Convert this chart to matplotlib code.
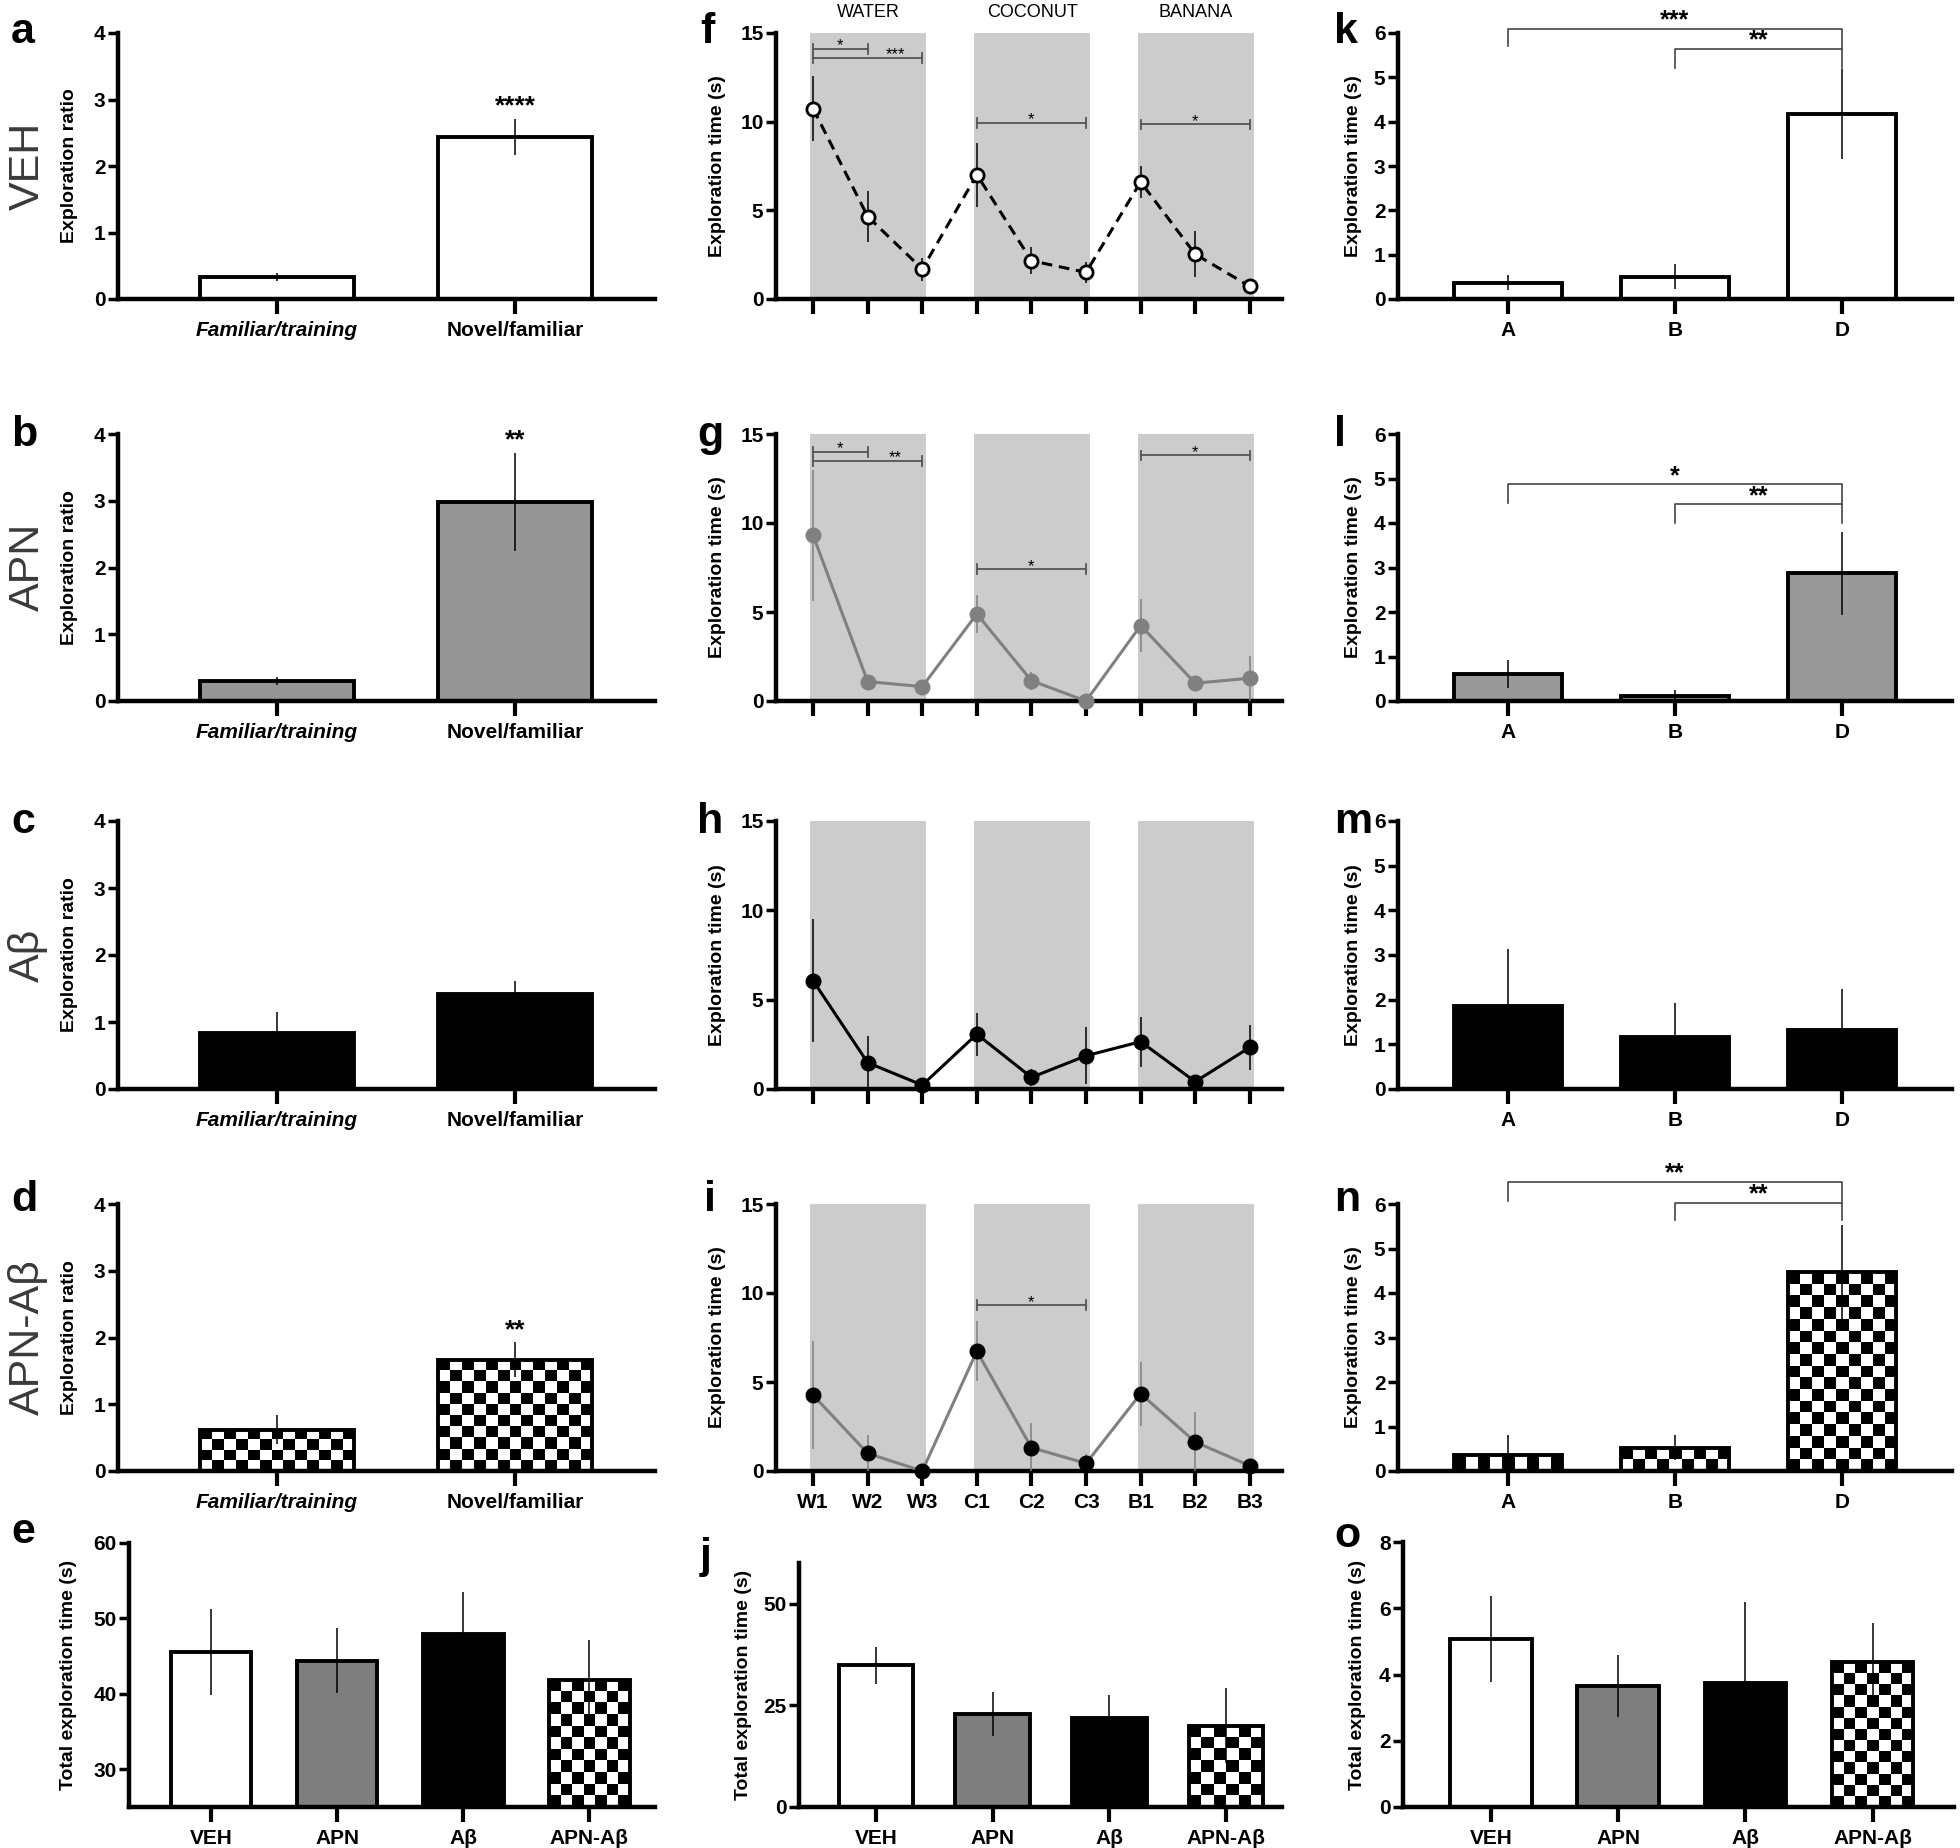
import numpy as np
import matplotlib
matplotlib.use('Agg')
import matplotlib.pyplot as plt

W, H = 1960, 1848

# --- novel object recognition (a-d) ---
nor_labels = ['Familiar/training', 'Novel/familiar']
nor_veh = [0.33, 2.44]
nor_veh_err = [0.06, 0.27]
nor_apn = [0.30, 2.98]
nor_apn_err = [0.06, 0.74]
nor_ab = [0.84, 1.42]
nor_ab_err = [0.31, 0.19]
nor_apnab = [0.62, 1.67]
nor_apnab_err = [0.22, 0.26]
nor_stars_veh = ['', '****']
nor_stars_apn = ['', '**']
nor_stars_ab = ['', '']
nor_stars_apnab = ['', '**']

# --- olfactory habituation (f-i) ---
smell_labels = ['W1', 'W2', 'W3', 'C1', 'C2', 'C3', 'B1', 'B2', 'B3']
smell_groups = ['WATER', 'COCONUT', 'BANANA']
smell_veh = [10.73, 4.65, 1.69, 7.01, 2.16, 1.50, 6.60, 2.53, 0.71]
smell_veh_err = [1.83, 1.45, 0.65, 1.80, 0.75, 0.58, 0.90, 1.30, 0.20]
smell_apn = [9.30, 1.09, 0.81, 4.89, 1.14, 0.0, 4.24, 1.00, 1.28]
smell_apn_err = [3.70, 0.35, 0.30, 1.05, 0.50, 0.05, 1.50, 0.30, 1.27]
smell_ab = [6.06, 1.47, 0.22, 3.07, 0.65, 1.86, 2.65, 0.41, 2.33]
smell_ab_err = [3.45, 1.50, 0.10, 1.20, 0.48, 1.60, 1.40, 0.12, 1.24]
smell_apnab = [4.26, 0.99, 0.0, 6.73, 1.31, 0.43, 4.34, 1.63, 0.30]
smell_apnab_err = [3.05, 1.05, 0.05, 1.68, 1.40, 0.54, 1.80, 1.70, 0.10]
# (from, to, height, stars, star x)
smell_sig_veh = [(0, 1, 14.1, '*', 0.5), (0, 2, 13.6, '***', 1.5),
                 (3, 5, 9.94, '*', 4), (6, 8, 9.85, '*', 7)]
smell_sig_apn = [(0, 1, 14.0, '*', 0.5), (0, 2, 13.5, '**', 1.5),
                 (3, 5, 7.4, '*', 4), (6, 8, 13.8, '*', 7)]
smell_sig_ab = []
smell_sig_apnab = [(3, 5, 9.31, '*', 4)]

# --- object location (k-n) ---
obj_labels = ['A', 'B', 'D']
obj_veh = [0.37, 0.50, 4.17]
obj_veh_err = [0.17, 0.28, 1.02]
obj_apn = [0.61, 0.12, 2.87]
obj_apn_err = [0.32, 0.12, 0.93]
obj_ab = [1.86, 1.17, 1.31]
obj_ab_err = [1.28, 0.75, 0.94]
obj_apnab = [0.37, 0.52, 4.47]
obj_apnab_err = [0.43, 0.28, 1.05]
# (from, to, line y, left leg end, right leg end, stars)
obj_sig_veh = [(0, 2, 6.10, 5.70, 5.64, '***'), (1, 2, 5.64, 5.22, 5.22, '**')]
obj_sig_apn = [(0, 2, 4.87, 4.46, 4.42, '*'), (1, 2, 4.42, 4.00, 4.00, '**')]
obj_sig_ab = []
obj_sig_apnab = [(0, 2, 6.49, 6.07, 6.02, '**'), (1, 2, 6.02, 5.63, 5.63, '**')]

# --- total exploration (e, j, o) ---
tot_labels = ['VEH', 'APN', 'Aβ', 'APN-Aβ']
tot_nor = [45.5, 44.4, 47.9, 41.9]
tot_nor_err = [5.7, 4.3, 5.6, 5.2]
tot_smell = [34.8, 22.8, 22.0, 20.0]
tot_smell_err = [4.5, 5.4, 5.6, 9.3]
tot_obj = [5.08, 3.65, 3.75, 4.37]
tot_obj_err = [1.30, 0.93, 2.45, 1.18]

plt.rcParams['font.family'] = ['Liberation Sans', 'DejaVu Sans']
TICK_FONT = ['Liberation Sans Narrow', 'Liberation Sans', 'DejaVu Sans']
tick_kw = dict(fontfamily=TICK_FONT, fontweight='bold', fontsize=15)

fig = plt.figure(figsize=(W / 100, H / 100), dpi=100)


def make_ax(left, top, right, bottom, xlim, ylim):
  ax = fig.add_axes([left / W, 1 - bottom / H, (right - left) / W, (bottom - top) / H])
  for s in ['top', 'right']:
    ax.spines[s].set_visible(False)
  for s in ['left', 'bottom']:
    ax.spines[s].set_linewidth(3.2)
  ax.tick_params(axis='x', length=11, width=3, pad=5)
  ax.tick_params(axis='y', length=7, width=2.5, pad=2)
  ax.patch.set_alpha(0)
  ax.set_xlim(*xlim)
  ax.set_ylim(*ylim)
  ax.set_autoscale_on(False)
  return ax


def set_ylabel(ax, text, dx):
  ax.set_ylabel(text, fontsize=14, fontweight='bold', va='center')
  w = ax.get_position().width * W
  ax.yaxis.set_label_coords(-dx / w, 0.5)


def checker(ax, patch, x, v, width, sq=11.5):
  y0 = max(0, ax.get_ylim()[0])
  p0 = ax.transData.transform((x - width / 2, y0))
  p1 = ax.transData.transform((x + width / 2, v))
  nx = max(1, int(round((p1[0] - p0[0]) / sq)))
  ny = max(1, int(round((p1[1] - p0[1]) / sq)))
  board = np.indices((ny, nx)).sum(axis=0) % 2
  im = ax.imshow(board, cmap='gray', vmin=0, vmax=1,
                 extent=(x - width / 2, x + width / 2, y0, v),
                 origin='upper', aspect='auto', interpolation='nearest', zorder=2.5)
  im.set_clip_path(patch)


def bars(ax, values, errs, fills, width=0.65):
  xs = np.arange(len(values))
  for x, v, e, f in zip(xs, values, errs, fills):
    if f == 'checker':
      base = ax.bar(x, v, width, color='white', edgecolor='none', zorder=2)[0]
      checker(ax, base, x, v, width)
    else:
      ax.bar(x, v, width, color=f, edgecolor='none', zorder=2)
    ax.bar(x, v, width, facecolor='none', edgecolor='black', linewidth=2.8, zorder=3)
  ax.errorbar(xs, values, yerr=errs, fmt='none', ecolor='black',
              elinewidth=1.1, capsize=0, zorder=4)


def nor_panel(top, bottom, values, errs, fill, stars):
  ax = make_ax(118, top, 655, bottom, (-0.668, 1.588), (0, 4))
  bars(ax, values, errs, [fill, fill])
  for x, (v, e, s) in enumerate(zip(values, errs, stars)):
    if s:
      ax.annotate(s, (x, v + e), xytext=(0, 0), textcoords='offset points',
                  ha='center', va='bottom', fontsize=19, fontweight='bold')
  ax.set_yticks([0, 1, 2, 3, 4], ['0', '1', '2', '3', '4'], **tick_kw)
  ax.set_xticks([0, 1], nor_labels, **tick_kw)
  ax.get_xticklabels()[0].set_fontstyle('italic')
  set_ylabel(ax, 'Exploration ratio', 49)
  return ax


def smell_panel(top, bottom, values, errs, line_color, face, edge, dashed,
                err_color, band_tops, sig, show_labels=False, show_groups=False):
  ax = make_ax(776, top, 1282, bottom, (-0.68, 8.59), (0, 15))
  ax.bar(1.01 + 3 * np.arange(3), band_tops, 2.12, color='#cccccc', zorder=0)
  xs = np.arange(len(values))
  ax.errorbar(xs, values, yerr=errs, fmt='none', ecolor=err_color,
              elinewidth=1.1, capsize=0, zorder=3)
  ax.plot(xs, values, color=line_color, lw=2.2,
          ls=(0, (3.5, 2.2)) if dashed else '-', marker='o', ms=9.5,
          mfc=face, mec=edge, mew=2, zorder=4, clip_on=False)
  for i, j, y, s, lx in sig:
    ax.plot([i, j], [y, y], color='#555555', lw=1.3, zorder=5)
    for xx in (i, j):
      ax.plot([xx, xx], [y - 0.27, y + 0.27], color='#555555', lw=1.3, zorder=5)
    ax.annotate(s, (lx, y), xytext=(0, -1), textcoords='offset points',
                ha='center', va='baseline', fontsize=12)
  if show_groups:
    for g, name in enumerate(smell_groups):
      ax.text(1.01 + 3 * g, 16.15, name, ha='center', va='center',
              fontsize=13, clip_on=False)
  ax.set_yticks([0, 5, 10, 15], ['0', '5', '10', '15'], **tick_kw)
  ax.set_xticks(xs, smell_labels if show_labels else [''] * 9, **tick_kw)
  set_ylabel(ax, 'Exploration time (s)', 58)
  return ax


def obj_panel(top, bottom, values, errs, fill, sig):
  ax = make_ax(1398, top, 1952, bottom, (-0.66, 2.66), (0, 6))
  bars(ax, values, errs, [fill] * 3)
  for i, j, y, yl, yr, s in sig:
    ax.plot([i, i, j, j], [yl, y, y, yr], color='#444444', lw=1.2,
            zorder=5, clip_on=False)
    ax.annotate(s, ((i + j) / 2, y), xytext=(0, 1), textcoords='offset points',
                ha='center', va='baseline', fontsize=18, fontweight='bold',
                annotation_clip=False)
  ax.set_yticks(range(7), [str(t) for t in range(7)], **tick_kw)
  ax.set_xticks([0, 1, 2], obj_labels, **tick_kw)
  set_ylabel(ax, 'Exploration time (s)', 45)
  return ax


def total_panel(left, top, right, bottom, xlim, ylim, ticks, values, errs, dx):
  ax = make_ax(left, top, right, bottom, xlim, ylim)
  bars(ax, values, errs, ['white', '#7f7f7f', 'black', 'checker'], width=0.64)
  ax.set_yticks(ticks, [str(t) for t in ticks], **tick_kw)
  ax.set_xticks(range(4), tot_labels, **tick_kw)
  set_ylabel(ax, 'Total exploration time (s)', dx)
  return ax


def letters():
  marks = [('a', 11, 43), ('b', 11, 446), ('c', 11, 833), ('d', 11, 1211), ('e', 11, 1543),
           ('f', 700, 43), ('g', 697, 446), ('h', 697, 833), ('i', 704, 1211), ('j', 700, 1568),
           ('k', 1334, 43), ('l', 1334, 446), ('m', 1334, 833), ('n', 1334, 1211), ('o', 1334, 1547)]
  for s, x, y in marks:
    fig.text(x / W, 1 - y / H, s, ha='left', va='baseline', fontsize=31, fontweight='bold')
  rows = [('VEH', 166), ('APN', 567), ('Aβ', 955), ('APN-Aβ', 1337)]
  for s, y in rows:
    fig.text(28 / W, 1 - y / H, s, rotation=90, ha='center', va='center',
             fontsize=31, color='#3a3a3a')


def main():
  tops = [33, 434, 821, 1204]
  bots = [299, 701, 1089, 1471]

  nor_panel(tops[0], bots[0], nor_veh, nor_veh_err, 'white', nor_stars_veh)
  nor_panel(tops[1], bots[1], nor_apn, nor_apn_err, '#959595', nor_stars_apn)
  nor_panel(tops[2], bots[2], nor_ab, nor_ab_err, 'black', nor_stars_ab)
  nor_panel(tops[3], bots[3], nor_apnab, nor_apnab_err, 'checker', nor_stars_apnab)

  smell_panel(tops[0], bots[0], smell_veh, smell_veh_err, 'black', 'white', 'black', True,
              'black', [15.15, 15.2, 15.2], smell_sig_veh, show_groups=True)
  smell_panel(tops[1], bots[1], smell_apn, smell_apn_err, '#808080', '#808080', '#808080', False,
              '#808080', [15.05, 15.3, 15.2], smell_sig_apn)
  smell_panel(tops[2], bots[2], smell_ab, smell_ab_err, 'black', 'black', 'black', False,
              'black', [15.05, 15.3, 15.25], smell_sig_ab)
  smell_panel(tops[3], bots[3], smell_apnab, smell_apnab_err, '#808080', 'black', 'black', False,
              '#808080', [15.05, 15.2, 15.2], smell_sig_apnab, show_labels=True)

  obj_panel(tops[0], bots[0], obj_veh, obj_veh_err, 'white', obj_sig_veh)
  obj_panel(tops[1], bots[1], obj_apn, obj_apn_err, '#999999', obj_sig_apn)
  obj_panel(tops[2], bots[2], obj_ab, obj_ab_err, 'black', obj_sig_ab)
  obj_panel(tops[3], bots[3], obj_apnab, obj_apnab_err, 'checker', obj_sig_apnab)

  total_panel(129, 1543, 655, 1807, (-0.65, 3.52), (25, 60), [30, 40, 50, 60],
              tot_nor, tot_nor_err, 60)
  total_panel(799, 1563, 1282, 1807, (-0.66, 3.48), (0, 60), [0, 25, 50],
              tot_smell, tot_smell_err, 56)
  total_panel(1403, 1542, 1954, 1807, (-0.69, 3.64), (0, 8), [0, 2, 4, 6, 8],
              tot_obj, tot_obj_err, 46)

  letters()
  fig.savefig('out.png', dpi=100, facecolor='white')


main()
